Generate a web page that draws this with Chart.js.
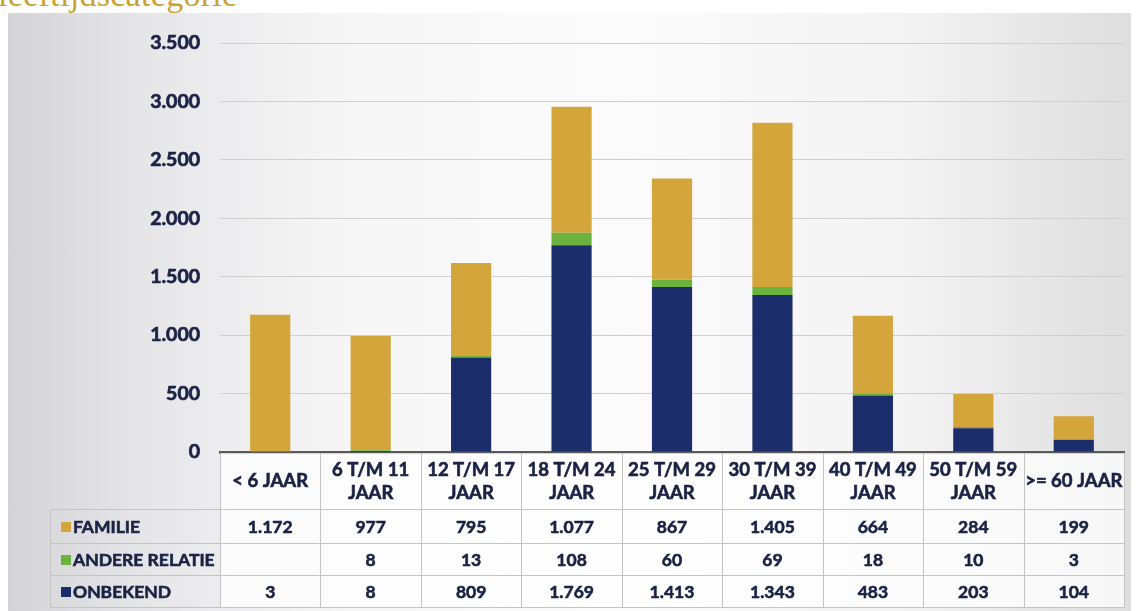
<!DOCTYPE html>
<html>
<head>
<meta charset="utf-8">
<script src="https://cdn.jsdelivr.net/npm/chart.js@4/dist/chart.umd.min.js"></script>
<style>
  html, body { margin: 0; padding: 0; background: #fff; overflow: hidden; }
  #wrap { position: relative; width: 1137px; height: 611px; }
  #panel {
    position: absolute; left: 8px; top: 13px; right: 6px; bottom: 0;
    background: linear-gradient(to right, #d4d4d8 0%, #e6e6e9 12%, #f6f6f6 30%, #fbfbfb 55%, #f3f3f3 80%, #dedede 100%);
  }
  #title {
    position: absolute; left: -2px; top: -24px;
    font-family: "Liberation Serif", serif; font-size: 34px; color: #c9a22e;
    letter-spacing: 0.3px;
  }
  canvas { position: absolute; left: 0; top: 0; }
</style>
</head>
<body>
<div id="wrap">
  <div id="panel"></div>
  <div id="title">leeftijdscategorie</div>
  <canvas id="chart" width="1137" height="611"></canvas>
</div>
<script>
// Data
const categories = [
    ['< 6 JAAR'],
    ['6 T/M 11', 'JAAR'],
    ['12 T/M 17', 'JAAR'],
    ['18 T/M 24', 'JAAR'],
    ['25 T/M 29', 'JAAR'],
    ['30 T/M 39', 'JAAR'],
    ['40 T/M 49', 'JAAR'],
    ['50 T/M 59', 'JAAR'],
    ['>= 60 JAAR']
];
const familie  = [1172, 977, 795, 1077, 867, 1405, 664, 284, 199];
const andere   = [null, 8, 13, 108, 60, 69, 18, 10, 3];
const onbekend = [3, 8, 809, 1769, 1413, 1343, 483, 203, 104];
const yTicks = [0, 500, 1000, 1500, 2000, 2500, 3000, 3500];

const GOLD = '#d4a53b';
const GREEN = '#6cb23f';
const NAVY = '#1c2d6c';
const TEXT = '#1b2244';
const FONT = 'Lato';

// table rows, top to bottom
const tableRows = [
    { name: 'FAMILIE', values: familie, color: GOLD },
    { name: 'ANDERE RELATIE', values: andere, color: GREEN },
    { name: 'ONBEKEND', values: onbekend, color: NAVY }
];

function fmt(v) {
    if (v === null || v === undefined) return '';
    return String(v).replace(/\B(?=(\d{3})+(?!\d))/g, '.');
}

// bold text with a thin outline so it looks as heavy as the original
function heavyText(ctx, s, x, y) {
    ctx.fillText(s, x, y);
    ctx.strokeText(s, x, y);
}

// draws the data table under the x axis, aligned with the category scale
const dataTable = {
    id: 'dataTable',
    afterDraw(chart) {
        const ctx = chart.ctx;
        const area = chart.chartArea;
        const xs = chart.scales.x;
        const n = categories.length;
        const colW = (area.right - area.left) / n;
        const headTop = area.bottom + 1;
        const rowLines = [509, 543, 575, 607];
        const tableLeft = 50;

        ctx.save();
        // cell backgrounds
        ctx.fillStyle = 'rgba(255,255,255,0.75)';
        ctx.fillRect(area.left, headTop, area.right - area.left, rowLines[3] - headTop);

        ctx.strokeStyle = '#c4c4c4';
        ctx.lineWidth = 1;
        ctx.beginPath();
        // vertical lines
        for (let i = 0; i <= n; i++) {
            const x = Math.round(area.left + i * colW) + 0.5;
            ctx.moveTo(x, headTop);
            ctx.lineTo(x, rowLines[3]);
        }
        ctx.moveTo(tableLeft + 0.5, rowLines[0]);
        ctx.lineTo(tableLeft + 0.5, rowLines[3]);
        // horizontal lines
        rowLines.forEach(y => {
            ctx.moveTo(tableLeft, y + 0.5);
            ctx.lineTo(area.right, y + 0.5);
        });
        ctx.stroke();

        ctx.fillStyle = TEXT;
        ctx.strokeStyle = TEXT;
        ctx.lineWidth = 0.6;
        ctx.textAlign = 'center';
        ctx.textBaseline = 'middle';
        // header
        ctx.font = 'bold 18.5px ' + FONT;
        categories.forEach((lines, i) => {
            const cx = xs.getPixelForValue(i);
            const mid = (headTop + rowLines[0]) / 2;
            if (lines.length === 1) {
                heavyText(ctx, lines[0], cx, mid);
            } else {
                heavyText(ctx, lines[0], cx, mid - 11);
                heavyText(ctx, lines[1], cx, mid + 12);
            }
        });
        // rows
        ctx.font = 'bold 17.5px ' + FONT;
        tableRows.forEach((row, r) => {
            const cy = (rowLines[r] + rowLines[r + 1]) / 2 + 1;
            ctx.fillStyle = row.color;
            ctx.fillRect(61, cy - 5, 10, 10);
            ctx.fillStyle = TEXT;
            ctx.textAlign = 'left';
            heavyText(ctx, row.name, 73, cy);
            ctx.textAlign = 'center';
            row.values.forEach((v, i) => {
                heavyText(ctx, fmt(v), xs.getPixelForValue(i), cy);
            });
        });
        ctx.restore();
    }
};

new Chart(document.getElementById('chart'), {
    type: 'bar',
    data: {
        labels: categories.map(c => c.join(' ')),
        datasets: [
            { label: 'ONBEKEND', data: onbekend, backgroundColor: NAVY },
            { label: 'ANDERE RELATIE', data: andere, backgroundColor: GREEN },
            { label: 'FAMILIE', data: familie, backgroundColor: GOLD }
        ]
    },
    options: {
        responsive: false,
        animation: false,
        events: [],
        layout: { padding: { top: 43, right: 13, left: 0, bottom: 0 } },
        datasets: { bar: { barPercentage: 0.4, categoryPercentage: 1.0 } },
        plugins: {
            legend: { display: false },
            tooltip: { enabled: false }
        },
        scales: {
            x: {
                stacked: true,
                grid: { display: false, drawTicks: false },
                border: { color: '#5a5a5a', width: 3 },
                ticks: { display: false },
                afterFit: s => { s.height = 611 - 452; }
            },
            y: {
                stacked: true,
                min: 0,
                max: 3500,
                afterBuildTicks: s => { s.ticks = yTicks.map(v => ({ value: v })); },
                grid: { color: '#cfcfcf', lineWidth: 1, drawTicks: false },
                border: { display: false },
                ticks: {
                    padding: 20,
                    color: TEXT,
                    textStrokeColor: TEXT,
                    textStrokeWidth: 0.7,
                    font: { family: FONT, size: 19.5, weight: 'bold' },
                    callback: v => fmt(v)
                },
                afterFit: s => { s.width = 220; }
            }
        }
    },
    plugins: [dataTable]
});
</script>
</body>
</html>
